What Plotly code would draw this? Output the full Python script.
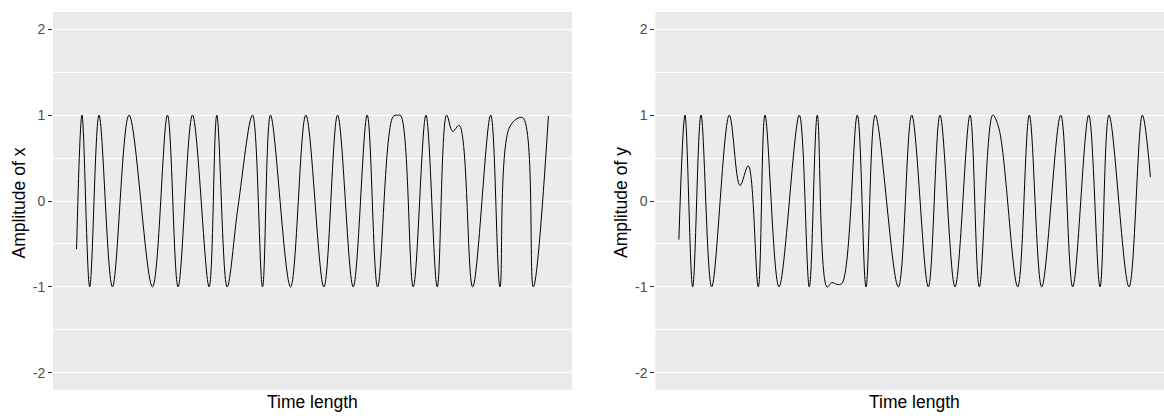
import plotly.graph_objects as go

# ---- data (time index, amplitude at turning points) ----
time_x = [0, 5.4, 13.1, 22.4, 35.8, 52.4, 75.8, 90.8, 101.4, 115.8, 132.4, 140.1,
          150.4, 161.4, 175.8, 185.8, 193.8, 213.8, 229.1, 247.1, 260.8, 276.4,
          290.4, 300.8, 316.1, 320.4, 324.1, 336.4, 349.1, 360.4, 369.8, 375.8,
          382.4, 395.8, 413.8, 423.1, 433.1, 445.8, 456.4, 471.5]
amp_x = [-0.56, 1, -1, 1, -1, 1, -1, 1, -1, 1, -1, 1,
         -1, -0.06, 1, -1, 1, -1, 1, -1, 1, -1,
         1, -1, 0.98, 1, 0.99, -1, 1, -1, 1, 0.81,
         0.88, -1, 1, -1, 0.87, 0.97, -1, 0.99]

time_y = [0, 6.1, 13.8, 22.1, 32.8, 50.4, 61.1, 69.4, 79.4, 86.1, 100.1, 120.4,
          130.4, 138.4, 148.1, 153.1, 158.1, 163.1, 178.4, 187.1, 196.4, 219.4,
          232.8, 249.4, 261.1, 276.1, 291.1, 300.4, 313.8, 320.1, 338.8, 350.4,
          362.8, 381.8, 393.8, 409.8, 421.1, 430.1, 450.1, 463.4, 471.5]
amp_y = [-0.45, 1, -1, 1, -1, 1, 0.18, 0.41, -1, 1, -1, 1,
         -1, 1, -1, -0.95, -0.97, -0.96, 1, -1, 1, -1,
         1, -1, 1, -1, 1, -1, 1, 0.84, -1, 1,
         -1, 1, -1, 1, -1, 1, -1, 1, 0.28]

y_ticks = [-2, -1, 0, 1, 2]
y_tick_labels = ["-2", "-1", "0", "1", "2"]
x_title = "Time length"
y_titles = ["Amplitude of x", "Amplitude of y"]

W, H = 1164, 416
ML, MR, MT, MB = 53, 0, 12, 26
PW = W - ML - MR
PH = H - MT - MB

def px2paper_x(px):
    return (px - ML) / PW

def px2paper_y(py):
    return (H - MB - py) / PH

fig = go.Figure()
line = dict(color="black", width=1, shape="spline", smoothing=1)
fig.add_trace(go.Scatter(x=time_x, y=amp_x, mode="lines", line=line,
                         xaxis="x", yaxis="y", showlegend=False))
fig.add_trace(go.Scatter(x=time_y, y=amp_y, mode="lines", line=line,
                         xaxis="x2", yaxis="y2", showlegend=False))

font_family = "Liberation Sans, Arial, sans-serif"
pad = 0.05 * (time_x[-1] - time_x[0])

xcommon = dict(showticklabels=False, ticks="", showgrid=False, zeroline=False,
               showline=False)
ycommon = dict(range=[-2.2, 2.2], tickvals=y_ticks, ticktext=y_tick_labels,
               ticks="outside", ticklen=4,
               tickwidth=1, tickcolor="#333333",
               tickfont=dict(family=font_family, size=14, color="#4D4D4D"),
               showgrid=True, gridcolor="white", gridwidth=1.3, zeroline=False,
               showline=False,
               minor=dict(dtick=0.5, tick0=0, showgrid=True, gridcolor="white",
                          gridwidth=0.6, ticks=""))

left_end = px2paper_x(572)
right_start = px2paper_x(655.3)
# right panel is cropped at the image edge: keep the same scale as the left panel
scale = (572 - 53.3) / (time_x[-1] + 2 * pad)
right_max = (W - 655.3) / scale - pad

fig.update_layout(
    width=W, height=H,
    margin=dict(l=ML, r=MR, t=MT, b=MB),
    paper_bgcolor="white",
    plot_bgcolor="white",
    xaxis=dict(domain=[0, left_end], range=[-pad, time_x[-1] + pad], **xcommon),
    xaxis2=dict(domain=[right_start, 1], range=[-pad, right_max], anchor="y2", **xcommon),
    yaxis=dict(anchor="x", **ycommon),
    yaxis2=dict(anchor="x2", **ycommon),
    font=dict(family=font_family),
)

for xd in [(0, left_end), (right_start, 1)]:
    fig.add_shape(type="rect", xref="paper", yref="paper", x0=xd[0], x1=xd[1],
                  y0=0, y1=1, fillcolor="#EBEBEB", line_width=0, layer="below")

title_font = dict(family=font_family, size=17.5, color="black")
for cx in [312.7, 914.7]:
    fig.add_annotation(text=x_title, xref="paper", yref="paper",
                       x=px2paper_x(cx), y=px2paper_y(402), showarrow=False,
                       xanchor="center", yanchor="middle", font=title_font)
for cx, t in zip([18.5, 621], y_titles):
    fig.add_annotation(text=t, xref="paper", yref="paper",
                       x=px2paper_x(cx), y=px2paper_y(203), showarrow=False,
                       textangle=-90, xanchor="center", yanchor="middle",
                       font=title_font)

fig.write_html("out.html")
